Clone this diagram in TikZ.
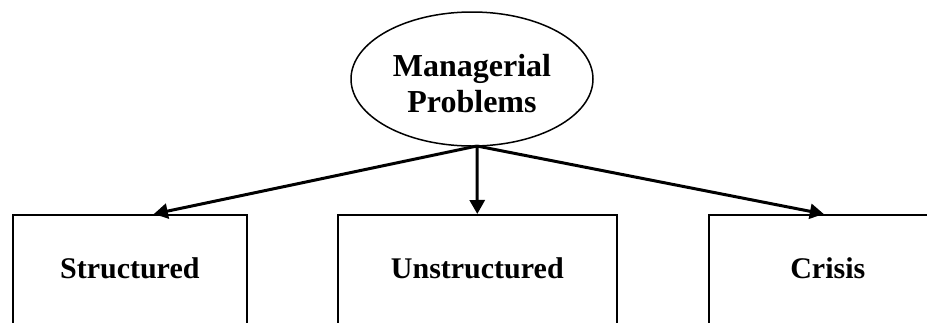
\documentclass[tikz,border=0pt]{standalone}
\usepackage{fontspec}
\setmainfont{Liberation Serif}
\usetikzlibrary{shapes.geometric,arrows.meta}
\begin{document}
\begin{tikzpicture}[x=1pt,y=-1pt,
  problem/.style={ellipse, draw, line width=1.5pt, minimum width=242pt,
    minimum height=134pt, inner sep=0pt, align=center, text height=68pt,
    font=\fontsize{32}{36}\selectfont\bfseries},
  kindbox/.style={draw, line width=1.6pt, minimum height=112pt,
    anchor=north west, inner sep=0pt, text depth=6pt,
    font=\fontsize{30}{36}\selectfont\bfseries},
  flow/.style={line width=3pt, -{Triangle[length=14pt,width=15pt]}}]

  % canvas, cut at the page edges
  \path[use as bounding box, clip] (0,0) rectangle (927,322);

  % root
  \node[problem] (mp) at (472,79) {Managerial\\Problems};
  \coordinate (hub) at (477,146);

  % the three kinds of problems
  \node[kindbox, minimum width=234pt] (structured) at (12,214) {Structured};
  \node[kindbox, minimum width=279pt] (unstructured) at (337,214) {Unstructured};
  \node[kindbox, minimum width=238pt] (crisis) at (708,214) {Crisis};

  % connectors
  \draw[flow] (hub) -- ([xshift=24pt]structured.north);
  \draw[flow] (hub) -- (unstructured.north);
  \draw[flow] (hub) -- ([xshift=-4pt]crisis.north);
\end{tikzpicture}
\end{document}
